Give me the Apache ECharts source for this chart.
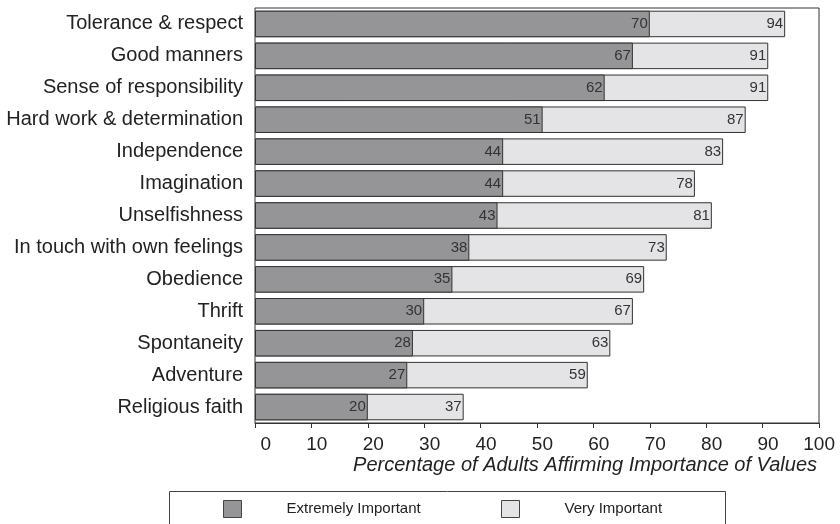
<!DOCTYPE html>
<html>
<head>
<meta charset="utf-8">
<script src="https://cdn.jsdelivr.net/npm/echarts@6/dist/echarts.min.js"></script>
<style>
  html, body { margin: 0; padding: 0; background: #fff; }
  #chart { width: 840px; height: 524px; }
</style>
</head>
<body>
<div id="chart"></div>
<script>
// Values children should learn, share of adults rating each as important
const categories = [
  'Tolerance & respect', 'Good manners', 'Sense of responsibility',
  'Hard work & determination', 'Independence', 'Imagination',
  'Unselfishness', 'In touch with own feelings', 'Obedience',
  'Thrift', 'Spontaneity', 'Adventure', 'Religious faith'
];
const extremelyImportant = [70, 67, 62, 51, 44, 44, 43, 38, 35, 30, 28, 27, 20];
const veryImportant      = [94, 91, 91, 87, 83, 78, 81, 73, 69, 67, 63, 59, 37];
const axisTicks = [0, 10, 20, 30, 40, 50, 60, 70, 80, 90, 100];

const FONT = 'Liberation Sans, Arial, Helvetica, sans-serif';
const INK = '#222';
const DARK = '#959598';
const LIGHT = '#e4e4e6';

const chart = echarts.init(document.getElementById('chart'));

const valueLabel = {
  show: true,
  position: 'insideRight',
  distance: 2,
  color: '#333',
  fontFamily: FONT,
  fontSize: 15
};

const legendCommon = {
  top: 500,
  padding: 0,
  itemWidth: 18, itemHeight: 17,
  icon: 'rect',
  itemStyle: { borderColor: '#444', borderWidth: 1 },
  textStyle: { color: INK, fontFamily: FONT, fontSize: 15, padding: [0, 0, 0, 40] }
};

chart.setOption({
  animation: false,
  backgroundColor: '#fff',
  grid: {
    left: 255, right: 21, top: 8, bottom: 101,
    show: true, borderColor: '#333', borderWidth: 1,
    containLabel: false
  },
  xAxis: {
    type: 'value',
    min: axisTicks[0],
    max: axisTicks[axisTicks.length - 1],
    interval: axisTicks[1] - axisTicks[0],
    splitLine: { show: false },
    axisLine: { show: true, lineStyle: { color: '#333', width: 1 } },
    axisTick: { show: true, length: 5, lineStyle: { color: '#333' } },
    // tick numbers sit right-aligned a little past their tick marks
    axisLabel: {
      color: INK, fontFamily: FONT, fontSize: 19, margin: 12,
      align: 'right', padding: [0, -16, 0, 0]
    },
    name: 'Percentage of Adults Affirming Importance of Values',
    nameLocation: 'end',
    nameGap: -2,
    nameTextStyle: {
      color: INK, fontFamily: FONT, fontSize: 20, fontStyle: 'italic',
      align: 'right', verticalAlign: 'top', padding: [32, 0, 0, 0]
    }
  },
  yAxis: {
    type: 'category',
    data: categories,
    inverse: true,
    axisLine: { show: false },
    axisTick: { show: false },
    axisLabel: { color: INK, fontFamily: FONT, fontSize: 20, margin: 12 }
  },
  legend: [
    Object.assign({ data: ['Extremely Important'], left: 223 }, legendCommon),
    Object.assign({ data: ['Very Important'], left: 501 }, legendCommon)
  ],
  graphic: [
    {
      type: 'rect',
      shape: { x: 169.5, y: 491.5, width: 556, height: 60 },
      style: { fill: 'none', stroke: '#444', lineWidth: 1 },
      silent: true
    }
  ],
  series: [
    {
      name: 'Very Important',
      type: 'bar',
      data: veryImportant,
      barCategoryGap: '17%',
      barGap: '-100%',
      itemStyle: { color: LIGHT, borderColor: '#333', borderWidth: 1 },
      label: valueLabel
    },
    {
      name: 'Extremely Important',
      type: 'bar',
      data: extremelyImportant,
      barCategoryGap: '17%',
      barGap: '-100%',
      itemStyle: { color: DARK, borderColor: '#333', borderWidth: 1 },
      label: valueLabel
    }
  ]
});
</script>
</body>
</html>
